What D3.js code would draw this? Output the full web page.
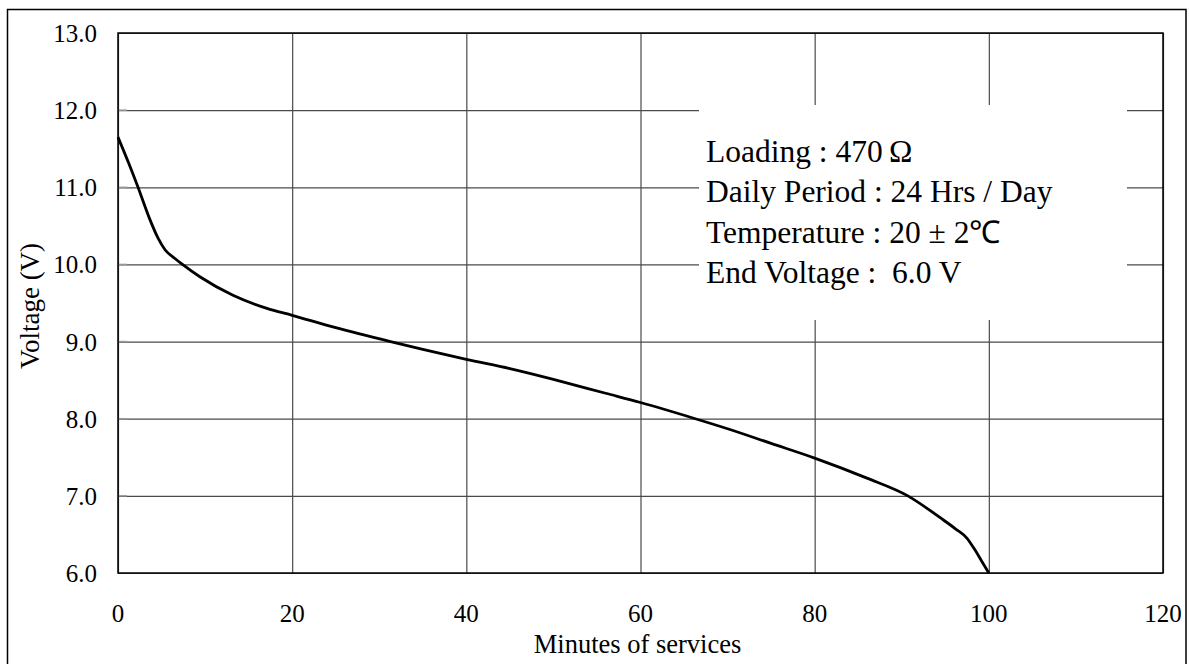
<!DOCTYPE html>
<html>
<head>
<meta charset="utf-8">
<script src="https://cdn.jsdelivr.net/npm/d3@7/dist/d3.min.js"></script>
<style>
  html, body { margin: 0; padding: 0; background: #fff; }
  svg { display: block; }
  text { font-family: "Liberation Serif", "Times New Roman", serif; fill: #000; }
</style>
</head>
<body>
<svg id="chart" width="1189" height="664"></svg>
<script>
// ---- data ----
const minutes = [0, 1.2, 2.3, 3.6, 4.6, 5.4, 6.5, 7.4, 9.4, 13.2, 17.1, 20, 25, 31.3, 35, 40, 45, 50, 53, 56, 60, 66.3, 70, 75, 80, 86, 90.7, 94.5, 96.2, 97.5, 98.4, 99.2, 100];
const voltage = [11.65, 11.32, 11.0, 10.6, 10.34, 10.19, 10.08, 10.0, 9.84, 9.6, 9.43, 9.34, 9.18, 9.0, 8.9, 8.77, 8.65, 8.51, 8.42, 8.33, 8.21, 8.0, 7.87, 7.68, 7.49, 7.23, 7.0, 6.71, 6.57, 6.45, 6.3, 6.15, 6.0];
const xTicks = [0, 20, 40, 60, 80, 100, 120];
const yTicks = [6, 7, 8, 9, 10, 11, 12, 13];
const legendLines = ["Loading : 470\u2009Ω", "Daily Period : 24 Hrs / Day", "Temperature : 20 ± 2℃", "End Voltage :  6.0 V"];
const xTitle = "Minutes of services";
const yTitle = "Voltage (V)";

// ---- layout ----
const svg = d3.select("#chart");
const L = 118, R = 1163, T = 33, B = 573;
const x = d3.scaleLinear().domain([0, 120]).range([L, R]);
const y = d3.scaleLinear().domain([6, 13]).range([B, T]);

// outer frame
svg.append("rect").attr("x", 7.5).attr("y", 9.5).attr("width", 1178.5).attr("height", 700)
  .attr("fill", "none").attr("stroke", "#000").attr("stroke-width", 1.5);

// grid
const grid = svg.append("g");
grid.append("g").attr("transform", `translate(0,${B})`)
  .call(d3.axisBottom(x).tickValues(xTicks).tickSize(-(B - T)).tickFormat(""))
  .call(g => g.select(".domain").remove())
  .call(g => g.selectAll("line").attr("stroke", "#4a4a4a").attr("stroke-width", 1.2));
grid.append("g").attr("transform", `translate(${L},0)`)
  .call(d3.axisLeft(y).tickValues(yTicks).tickSize(-(R - L)).tickFormat(""))
  .call(g => g.select(".domain").remove())
  .call(g => g.selectAll("line").attr("stroke", "#4a4a4a").attr("stroke-width", 1.2));

// legend background
svg.append("rect").attr("x", 699).attr("y", 105).attr("width", 428).attr("height", 215).attr("fill", "#fff");

// small ticks on left
svg.append("g").selectAll("line").data(yTicks.slice(1, -1)).join("line")
  .attr("x1", L).attr("x2", L + 9).attr("y1", d => y(d)).attr("y2", d => y(d))
  .attr("stroke", "#999").attr("stroke-width", 1.5);

// plot border
svg.append("rect").attr("x", L).attr("y", T).attr("width", R - L).attr("height", B - T)
  .attr("fill", "none").attr("stroke", "#000").attr("stroke-width", 1.5);

// curve
const pts = minutes.map((m, i) => [m, voltage[i]]);
svg.append("path").datum(pts)
  .attr("d", d3.line().x(d => x(d[0])).y(d => y(d[1])).curve(d3.curveMonotoneX))
  .attr("fill", "none").attr("stroke", "#000").attr("stroke-width", 2.8).attr("stroke-linejoin", "round");

// tick labels
svg.append("g").selectAll("text").data(yTicks).join("text")
  .attr("x", 97).attr("y", d => y(d) + 9).attr("text-anchor", "end")
  .style("font-size", "25px").text(d => d3.format(".1f")(d));
svg.append("g").selectAll("text").data(xTicks).join("text")
  .attr("x", d => x(d)).attr("y", 622).attr("text-anchor", "middle")
  .style("font-size", "25px").text(d => d);

// titles
svg.append("text").attr("x", (L + R) / 2 - 3).attr("y", 653).attr("text-anchor", "middle")
  .style("font-size", "26.5px").text(xTitle);
svg.append("text").attr("transform", `translate(39,${(T + B) / 2 + 3}) rotate(-90)`).attr("text-anchor", "middle")
  .style("font-size", "27px").text(yTitle);

// legend text
svg.append("g").selectAll("text").data(legendLines).join("text")
  .attr("x", 706).attr("y", (d, i) => 162 + i * 40.4)
  .attr("xml:space", "preserve").style("white-space", "pre")
  .style("font-size", "31.5px").text(d => d);
</script>
</body>
</html>
